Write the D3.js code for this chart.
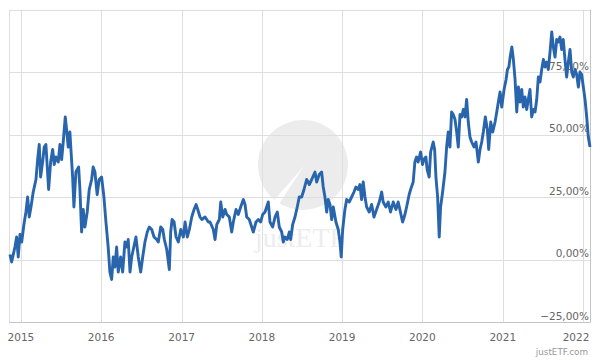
<!DOCTYPE html>
<html>
<head>
<meta charset="utf-8">
<script src="https://cdn.jsdelivr.net/npm/d3@7/dist/d3.min.js"></script>
<style>
html,body{margin:0;padding:0;background:#fff;}
svg{display:block;font-family:"DejaVu Sans",sans-serif;}
</style>
</head>
<body>
<svg id="chart" width="600" height="360"></svg>
<script>
// Dates as decimal years
const dates = [
2014.863,2014.884,2014.925,2014.946,2014.966,2014.988,2015.009,2015.037,2015.062,2015.083,
2015.103,2015.125,2015.153,2015.187,2015.208,2015.228,2015.245,2015.270,2015.290,2015.311,
2015.328,2015.345,2015.370,2015.395,2015.415,2015.436,2015.465,2015.486,2015.507,2015.527,
2015.552,2015.569,2015.589,2015.610,2015.623,2015.644,2015.660,2015.685,2015.719,2015.735,
2015.756,2015.776,2015.797,2015.826,2015.851,2015.881,2015.900,2015.922,2015.950,2015.975,
2016.005,2016.034,2016.059,2016.087,
2016.108,2016.130,2016.150,2016.171,2016.192,2016.212,2016.242,2016.267,2016.295,2016.316,
2016.336,2016.358,2016.379,2016.399,2016.432,2016.461,2016.491,2016.516,2016.544,2016.573,
2016.598,2016.628,2016.657,2016.690,2016.710,2016.740,2016.765,2016.785,2016.815,2016.847,
2016.864,2016.881,2016.906,2016.931,2016.959,2016.989,2017.021,2017.043,2017.071,2017.096,
2017.126,2017.155,2017.180,2017.201,2017.229,2017.251,2017.292,2017.333,
2017.354,2017.395,2017.416,2017.438,2017.470,2017.487,2017.512,2017.541,2017.562,2017.594,
2017.624,2017.644,2017.678,2017.706,2017.736,2017.769,2017.790,2017.811,2017.843,2017.873,
2017.893,2017.927,2017.956,2017.985,2018.010,2018.039,2018.060,2018.080,2018.101,2018.135,
2018.164,2018.192,2018.217,2018.247,2018.267,2018.288,2018.317,2018.342,2018.359,2018.384,
2018.413,2018.441,2018.466,2018.496,2018.525,
2018.558,2018.591,2018.621,2018.662,2018.683,2018.715,2018.745,2018.765,2018.786,2018.808,
2018.827,2018.849,2018.870,2018.890,2018.923,2018.952,2018.973,2018.989,2019.007,2019.035,
2019.057,2019.089,2019.119,2019.148,2019.172,2019.201,2019.222,2019.243,2019.263,2019.285,
2019.306,2019.338,2019.368,2019.397,2019.430,2019.463,2019.493,2019.512,2019.546,2019.575,
2019.604,2019.637,2019.671,2019.699,2019.720,2019.754,2019.783,2019.804,2019.836,
2019.854,2019.886,2019.907,2019.928,2019.948,2019.978,2020.003,2020.019,2020.044,2020.060,
2020.085,2020.103,2020.135,2020.153,2020.169,2020.190,2020.210,2020.227,2020.252,2020.281,
2020.302,2020.322,2020.343,2020.364,2020.384,2020.406,2020.427,2020.447,2020.468,2020.489,
2020.509,2020.530,2020.551,2020.571,2020.592,2020.613,2020.642,2020.667,2020.696,2020.717,
2020.738,2020.758,2020.783,2020.808,2020.825,2020.850,2020.875,2020.904,2020.925,2020.945,
2020.966,2020.987,2021.016,2021.041,2021.058,2021.076,2021.092,2021.113,2021.132,2021.153,
2021.174,2021.194,2021.215,2021.236,2021.256,2021.277,2021.298,2021.318,2021.339,2021.360,
2021.381,2021.402,2021.423,2021.443,2021.464,2021.485,2021.506,2021.526,2021.547,2021.567,
2021.589,2021.610,2021.630,2021.651,2021.672,2021.692,2021.713,2021.734,2021.754,2021.775,
2021.796,2021.817,2021.838,2021.859,2021.879,2021.900,2021.921,2021.942,2021.962,2021.983,
2022.004,2022.025,2022.046,2022.066,2022.087
];
// Performance in %
const values = [
2,-1,5,9,1,10,7,14,19,25,
17,21,27,32,40,46,33,39,45,46,
37,28,39,44,38,41,39,46,40,47,
57,52,45,51,44,33,21,35,37,28,
11,20,13,19,28,32,37,35,26,32,
33,25,15,5,
-5,-8,1,-3,5,-5,1,-5,7,5,
8,-5,1,4,9,1,-5,1,7,11,
13,12,9,8,7,13,12,8,4,-4,
11,16,15,9,7,12,9,15,9,12,
17,20,22,20,17,16,17,15,
15,12,8,14,16,23,17,20,18,17,
11,15,20,18,21,24,22,17,16,13,
11,15,16,15,18,19,21,23,15,13,
17,19,13,11,7,9,8,11,8,14,
17,21,25,25,28,
32,30,32,35,31,34,35,29,25,19,
24,22,16,21,15,12,7,1,12,20,
24,23,25,27,29,28,30,24,31,25,
21,19,22,17,20,23,27,23,21,23,
19,23,20,23,20,15,18,21,26,
28,31,39,41,39,43,38,40,41,36,
33,43,47,44,33,25,9,21,27,35,
45,51,45,59,58,56,51,45,58,57,
60,57,64,55,49,47,45,47,39,44,
47,51,57,52,44,55,51,55,59,63,
67,61,68,72,76,77,81,85,80,72,
59,69,63,68,61,65,60,64,68,57,
60,59,64,73,71,76,80,77,79,76,
83,91,85,81,88,87,89,84,88,80,
73,79,84,75,73,76,74,69,75,74,
69,64,57,49,45
];
const yTicks = [-25, 0, 25, 50, 75, 100];
const xTickYears = [2015, 2016, 2017, 2018, 2019, 2020, 2021, 2022];
const xStart = 2014.851;
const sourceLabel = "justETF.com";
const watermarkLabel = "justETF";

function decToDate(t) {
  const yr = Math.floor(t);
  const a = Date.UTC(yr, 0, 1), b = Date.UTC(yr + 1, 0, 1);
  return new Date(a + (t - yr) * (b - a));
}

const data = dates.map((d, i) => ({ date: decToDate(d), value: values[i] }));

const L = 9, R = 590, T = 9.5, B = 322;
const svg = d3.select("#chart");

const x = d3.scaleUtc()
  .domain([decToDate(xStart), d3.max(data, d => d.date)])
  .range([L, R]);
const y = d3.scaleLinear().domain([-25, 100]).range([B, T]);

const locale = d3.formatLocale({ decimal: ",", thousands: ".", grouping: [3], currency: ["", "€"] });
const fmt = v => locale.format(".2f")(v) + "%";

// watermark
const wm = svg.append("g");
wm.append("circle").attr("cx", 303).attr("cy", 165).attr("r", 45).attr("fill", "#ececec");
wm.append("path").attr("d", "M262,214 L304,166 L279,204 L272,206 Z").attr("fill", "#fff");
wm.append("text").attr("x", 300).attr("y", 247).attr("text-anchor", "middle")
  .attr("font-family", "'Liberation Serif', serif").attr("font-size", 28)
  .attr("fill", "#ededed").text(watermarkLabel);

// horizontal grid
svg.append("g").selectAll("line").data(yTicks).join("line")
  .attr("x1", L).attr("x2", R)
  .attr("y1", d => Math.round(y(d)) + 0.5).attr("y2", d => Math.round(y(d)) + 0.5)
  .attr("stroke", d => d === -25 ? "#c4c4c4" : "#dedede").attr("stroke-width", 1);

// vertical grid
const yearDates = xTickYears.map(yv => new Date(Date.UTC(yv, 0, 1)));
svg.append("g").selectAll("line").data(yearDates).join("line")
  .attr("x1", d => Math.round(x(d)) + 0.5).attr("x2", d => Math.round(x(d)) + 0.5)
  .attr("y1", T).attr("y2", B)
  .attr("stroke", "#dedede").attr("stroke-width", 1);

// borders left/right
svg.append("line").attr("x1", L + 0.5).attr("x2", L + 0.5).attr("y1", T).attr("y2", B)
  .attr("stroke", "#dedede");
svg.append("line").attr("x1", R + 0.5).attr("x2", R + 0.5).attr("y1", T).attr("y2", B + 0.5)
  .attr("stroke", "#c4c4c4");

// y labels
svg.append("g").selectAll("text").data(yTicks.filter(d => d < 100)).join("text")
  .attr("x", R - 1).attr("y", d => y(d) - 2.5)
  .attr("text-anchor", "end").attr("font-size", 10.5).attr("fill", "#666")
  .text(d => fmt(d));

// x labels
svg.append("g").selectAll("text").data(yearDates).join("text")
  .attr("x", d => Math.min(x(d), R - 14))
  .attr("y", 341)
  .attr("text-anchor", "middle").attr("font-size", 10.5).attr("fill", "#666")
  .text(d => d.getUTCFullYear());

// source
svg.append("text").attr("x", 588).attr("y", 355).attr("text-anchor", "end")
  .attr("font-size", 8.8).attr("fill", "#9a9a9a").text(sourceLabel);

// line
const line = d3.line().x(d => x(d.date)).y(d => y(d.value));
svg.append("path").datum(data).attr("d", line)
  .attr("fill", "none").attr("stroke", "#2865ad").attr("stroke-width", 2.9)
  .attr("stroke-linejoin", "round");
</script>
</body>
</html>
